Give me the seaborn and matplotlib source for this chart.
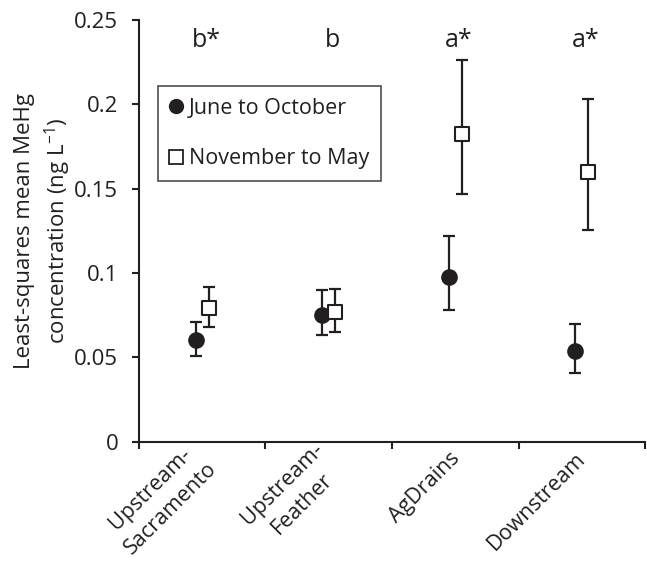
# ── Imports ──────────────────────────────────────────────────────────────────
import numpy as np
import matplotlib
matplotlib.use("Agg")
import matplotlib.pyplot as plt
import matplotlib.transforms as mtransforms
from matplotlib.lines import Line2D
import seaborn as sns

# ── Data ─────────────────────────────────────────────────────────────────────
SITES = ["Upstream-\nSacramento", "Upstream-\nFeather", "AgDrains", "Downstream"]
LETTERS = ["b*", "b", "a*", "a*"]

SUMMER_LABEL = "June to October"
SUMMER_MEAN  = [0.060, 0.075, 0.0975, 0.054]
SUMMER_LOW   = [0.051, 0.063, 0.078, 0.041]
SUMMER_HIGH  = [0.071, 0.090, 0.122, 0.0695]

WINTER_LABEL = "November to May"
WINTER_MEAN  = [0.079, 0.0767, 0.1826, 0.1597]
WINTER_LOW   = [0.068, 0.065, 0.147, 0.1255]
WINTER_HIGH  = [0.092, 0.0905, 0.2263, 0.2032]

# ── Style ────────────────────────────────────────────────────────────────────
INK = "#231f20"
FS  = 16
sns.set_theme(style="white")
plt.rcParams["font.family"] = ["Open Sans", "DejaVu Sans"]
plt.rcParams["mathtext.fontset"] = "custom"
plt.rcParams["mathtext.rm"] = "Open Sans"
plt.rcParams["text.color"] = INK
plt.rcParams["axes.labelcolor"] = INK
plt.rcParams["xtick.color"] = INK
plt.rcParams["ytick.color"] = INK

fig = plt.figure(figsize=(6.47, 5.66), dpi=100)
ax = fig.add_axes([0.2148, 0.2196, 0.7822, 0.7451])

x = np.arange(len(SITES))
off = 0.05

def draw(xpos, mean, low, high, marker, face):
    mean = np.array(mean)
    yerr = [mean - np.array(low), np.array(high) - mean]
    ax.errorbar(xpos, mean, yerr=yerr, fmt="none", ecolor=INK,
                elinewidth=1.6, capsize=4.3, capthick=1.6, zorder=2)
    sns.scatterplot(x=xpos, y=mean, marker=marker, s=110, color=face,
                    edgecolor=INK, linewidth=1.5, ax=ax, zorder=3,
                    legend=False)

draw(x - off, SUMMER_MEAN, SUMMER_LOW, SUMMER_HIGH, "o", INK)
draw(x + off, WINTER_MEAN, WINTER_LOW, WINTER_HIGH, "s", "white")

# significance letters
for xi, lab in zip(x, LETTERS):
    ax.text(xi + 0.03, 0.238, lab, ha="center", va="center", fontsize=FS + 2)

# axes
ax.set_xlim(-0.5, len(SITES) - 0.5)
ax.set_ylim(0, 0.25)
ax.set_yticks(np.arange(0, 0.251, 0.05))
ax.set_yticklabels(["0", "0.05", "0.1", "0.15", "0.2", "0.25"], fontsize=FS)
ax.set_xticks(np.arange(-0.5, len(SITES), 1.0))
ax.set_xticklabels([])
ax.set_xticks(x, minor=True)
ax.set_xticklabels(SITES, minor=True, rotation=45, ha="right", va="center",
                   rotation_mode="anchor", fontsize=FS - 0.5,
                   multialignment="center", linespacing=1.45)
ax.tick_params(axis="x", which="minor", length=0, pad=10)
shift = mtransforms.ScaledTranslation(1 / 100, 0, fig.dpi_scale_trans)
for lab in ax.get_xticklabels(minor=True):
    lab.set_transform(lab.get_transform() + shift)
ax.tick_params(axis="both", which="major", direction="out", length=5,
               width=1.5, color=INK, bottom=True, left=True)
ax.tick_params(axis="y", pad=10)
for s in ["left", "bottom"]:
    ax.spines[s].set_color(INK)
    ax.spines[s].set_linewidth(1.5)
sns.despine(ax=ax)

ax.set_ylabel("Least-squares mean MeHg\nconcentration (ng L$^{-1}$)",
              fontsize=FS, labelpad=1, linespacing=1.35)

handles = [
    Line2D([], [], marker="o", ls="none", color=INK, markersize=10,
           label=SUMMER_LABEL),
    Line2D([], [], marker="s", ls="none", markerfacecolor="white",
           markeredgecolor=INK, markeredgewidth=1.3, markersize=10,
           label=WINTER_LABEL),
]
leg = ax.legend(handles=handles, loc="upper left", bbox_to_anchor=(0.037, 0.843),
                fontsize=FS - 0.5, frameon=True, fancybox=False, labelspacing=1.35,
                handlelength=0.6, handletextpad=0.3, borderpad=0.55,
                borderaxespad=0)
leg.get_frame().set_edgecolor(INK)
leg.get_frame().set_linewidth(1.2)

plt.savefig("out.png", dpi=100)
plt.close()
